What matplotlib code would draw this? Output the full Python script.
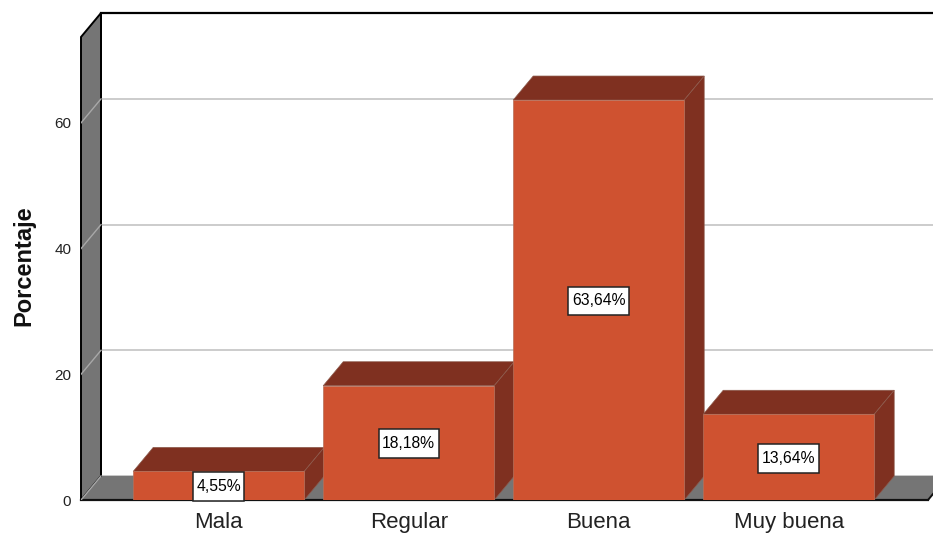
import matplotlib
matplotlib.use("Agg")
import matplotlib.pyplot as plt
from matplotlib.patches import Polygon
from matplotlib.path import Path

plt.rcParams['font.family'] = ['Liberation Sans', 'DejaVu Sans']

categories = ['Mala', 'Regular', 'Buena', 'Muy buena']
values = [4.55, 18.18, 63.64, 13.64]
labels = ['4,55%', '18,18%', '63,64%', '13,64%']
yticks = [0, 20, 40, 60]

W, H = 933, 535
PX_X = 190.0   # pixels per category
PX_Y = 6.285   # pixels per percent
DX = 20 / PX_X
DY = 24 / PX_Y
BAR_W = 171 / PX_X
FACE, DARK, WALL = '#CF5230', '#7F3020', '#757575'

fig = plt.figure(figsize=(W / 100, H / 100), dpi=100)
ax = fig.add_axes([81 / W, 35 / H, 852 / W, 487 / H])
ax.set_xlim((81 - 218.7) / PX_X, (933 - 218.7) / PX_X)
ax.set_ylim(0, 487 / PX_Y)
x0, x1 = ax.get_xlim()
ytop = ax.get_ylim()[1]
ytopf = ytop - DY
xfl = (928 - 218.7) / PX_X

for s in ax.spines.values():
    s.set_visible(False)

def poly(pts, fc, ec='none', lw=0.0, z=2, clip=True):
    p = Polygon(pts, closed=True, facecolor=fc, edgecolor=ec, linewidth=lw, zorder=z, clip_on=clip, joinstyle='miter')
    ax.add_patch(p)

def label_box(x, y, w, h, ms):
    px, py = 0.22 * ms, 0.44 * ms
    a, b, c, d = x - px, y - py, x + w + px, y + h + py
    return Path([(a, b), (c, b), (c, d), (a, d), (a, b)], closed=True)

# walls and floor
poly([(x0, 0), (x0 + DX, DY), (x0 + DX, ytop), (x0, ytopf)], WALL, 'black', 1.4, z=2, clip=False)
poly([(x0, 0), (xfl, 0), (xfl + DX, DY), (x0 + DX, DY)], WALL, 'none', 0, z=2, clip=False)
ax.plot([x0 + DX, x1], [DY, DY], color='#BDBDBD', lw=1.2, zorder=1.9)
ax.plot([x0 + DX, x0 + DX], [DY, ytop], color='black', lw=1.4, zorder=3)
ax.plot([x0, xfl], [0, 0], color='#111111', lw=1.6, zorder=3, clip_on=False)
ax.plot([xfl, xfl + DX], [0, DY], color='#111111', lw=1.4, zorder=3)
ax.plot([x0 + DX, x1], [ytop, ytop], color='black', lw=1.6, zorder=3, clip_on=False)

# gridlines
for t in yticks:
    if t:
        ax.plot([x0 + DX, x1], [t + DY, t + DY], color='#BEBEBE', lw=1.1, zorder=1)
    ax.plot([x0, x0 + DX], [t, t + DY], color='#A8A8A8', lw=1.0, zorder=3)

# bars
for i, v in enumerate(values):
    z = 5 + i
    l, r = i - BAR_W / 2, i + BAR_W / 2
    poly([(l, v), (r, v), (r + DX, v + DY), (l + DX, v + DY)], DARK, '#8C5A4C', 0.5, z=z)
    poly([(r, 0), (r + DX, DY), (r + DX, v + DY), (r, v)], DARK, '#8C5A4C', 0.5, z=z)
    ax.bar(i, v, width=BAR_W, color=FACE, edgecolor='#B5705A', linewidth=0.5, zorder=z + 0.1)

for i, (v, t) in enumerate(zip(values, labels)):
    ax.annotate(t, xy=(i, v / 2), xytext=(0, -0.7), textcoords='offset points',
                ha='center', va='center', fontsize=11.3, color='black', zorder=20,
                bbox=dict(boxstyle=label_box, facecolor='white', edgecolor='#222222', linewidth=1.1))

ax.set_xticks(range(len(categories)))
ax.set_xticklabels(categories, fontsize=16, color='#222222')
ax.set_yticks(yticks)
ax.set_yticklabels([str(t) for t in yticks], fontsize=11, color='#222222')
ax.tick_params(axis='both', length=0)
ax.tick_params(axis='x', pad=8.5)
ax.tick_params(axis='y', pad=7)
ax.set_ylabel('Porcentaje', fontsize=17, fontweight='bold', color='#111111')
ax.yaxis.set_label_coords((35 - 81) / 852, (500 - 266) / 487)

fig.savefig('out.png', dpi=100, facecolor='white')
